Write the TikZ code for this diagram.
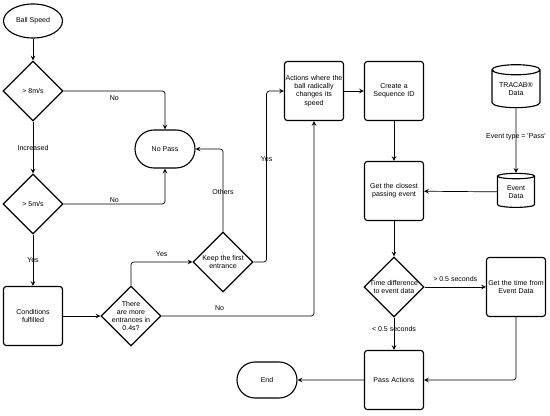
\documentclass[tikz,border=0pt]{standalone}
\usepackage{fontspec}
\setmainfont{Liberation Sans}
\usetikzlibrary{shapes.geometric,shapes.misc}

\tikzstyle{startstop} = [ellipse, minimum width=1.475cm, minimum height=0.85cm, inner sep=0pt, draw=black, line width=0.8pt]
\tikzstyle{terminal} = [rounded rectangle, minimum width=1.5cm, minimum height=0.95cm, inner sep=0pt, draw=black, line width=0.8pt]
\tikzstyle{process} = [rectangle, rounded corners=2pt, minimum width=1.475cm, minimum height=1.475cm, text width=1.45cm, text centered, inner sep=0pt, draw=black, line width=0.8pt]
\tikzstyle{decision} = [diamond, aspect=1, minimum width=1.5cm, minimum height=1.5cm, inner sep=0pt, draw=black, line width=0.8pt]
\tikzstyle{database} = [cylinder, shape border rotate=90, aspect=0.3, align=center, inner sep=0pt, draw=black, line width=0.8pt]
\tikzstyle{arrow} = [line width=0.5pt, rounded corners=2pt, ->, >=stealth]

\begin{document}
\begin{tikzpicture}[node distance=2cm, font=\fontsize{5}{5.9}\selectfont]
    \useasboundingbox (0,0) rectangle (13.75,-10.4);

    % left column
    \node (speed) [startstop] at (0.825,-0.525) {Ball Speed};
    \node (gt8) [decision, below of=speed, yshift=0.25cm, label=center:{> 8m/s}] {};
    \node (gt5) [decision, below of=gt8, yshift=-0.825cm, label=center:{> 5m/s}] {};
    \node (cond) [process, below of=gt5, yshift=-0.8cm] {Conditions\\fulfilled};
    \node (more) [decision, right of=cond, xshift=0.45cm, label={[align=center]center:There\\are more\\entrances in\\0.4s?}] {};
    \node (keep) [decision, right of=more, xshift=0.3cm, yshift=1.35cm, label={[align=center]center:Keep the first\\entrance}] {};
    \node (nopass) [terminal, above of=keep, xshift=-1.45cm, yshift=0.825cm] {No Pass};

    % middle and right
    \node (actions) [process, right of=gt8, xshift=5.025cm] {Actions where the\\ball radically\\changes its\\speed};
    \node (create) [process, right of=actions] {Create a\\Sequence ID};
    \node (closest) [process, below of=create, yshift=-0.5cm] {Get the closest\\passing event};
    \node (timediff) [decision, below of=closest, yshift=-0.4cm, label={[align=center]center:Time difference\\to event data}] {};
    \node (pass) [process, below of=timediff, yshift=-0.325cm] {Pass Actions};
    \node (endn) [terminal, minimum height=0.9cm, left of=pass, xshift=-1.175cm] {End};
    \node (gettime) [process, right of=timediff, xshift=1.05cm] {Get the time from\\Event Data};
    \node (eventd) [database, minimum width=0.925cm, minimum height=0.85cm, above of=gettime, yshift=0.375cm] {Event\\Data};
    \node (tracab) [database, minimum width=1.2cm, minimum height=1.075cm, above of=eventd, yshift=0.575cm] {TRACAB®\\Data};

    \draw [arrow] (speed) -- (gt8);
    \draw [arrow] (gt8) -| node[pos=0.25, anchor=north] {No} (nopass);
    \draw [arrow] (gt8) -- node {Increased} (gt5);
    \draw [arrow] (gt5) -| node[pos=0.25, anchor=south, inner sep=1pt] {No} (nopass);
    \draw [arrow] (gt5) -- node {Yes} (cond);
    \draw [arrow] (cond) -- (more);
    \draw [arrow] (more) |- node[pos=0.75, anchor=south] {Yes} (keep);
    \draw [arrow] (more) -| node[pos=0.19, anchor=south] {No} (actions);
    \draw [arrow] (keep) |- node[pos=0.24] {Others} (nopass);
    \draw [arrow] (keep.east) -- ++(0.325,0) |- node[pos=0.3] {Yes} (actions);

    \draw [arrow] (actions) -- (create);
    \draw [arrow] (create) -- (closest);
    \draw [arrow] (tracab) -- node[pos=0.45] {Event type = \textquotesingle Pass\textquotesingle} (eventd);
    \draw [arrow] (eventd) -- (closest);
    \draw [arrow] (closest) -- (timediff);
    \draw [arrow] (timediff) -- node[anchor=south] {> 0.5 seconds} (gettime);
    \draw [arrow] (timediff) -- node[pos=0.35] {< 0.5 seconds} (pass);
    \draw [arrow] (gettime) |- (pass);
    \draw [arrow] (pass) -- (endn);

\end{tikzpicture}
\end{document}
